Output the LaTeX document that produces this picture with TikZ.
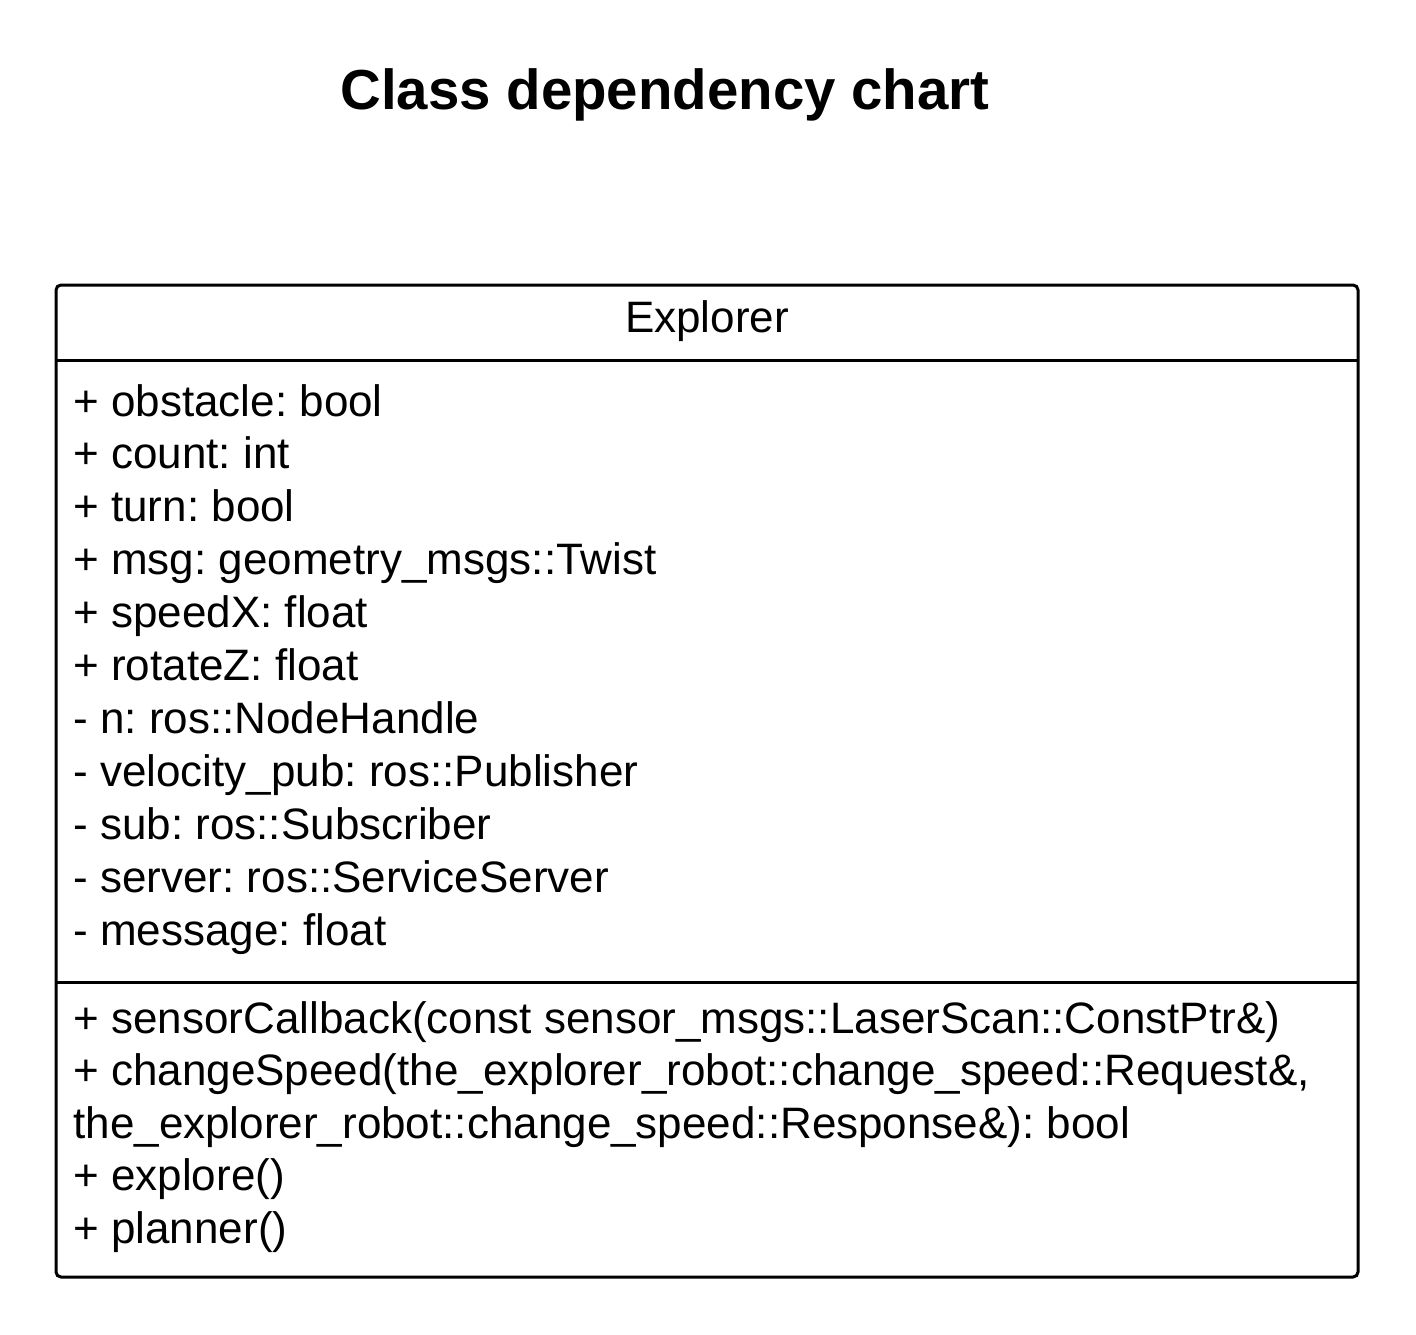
\documentclass[tikz,border=0pt]{standalone}
\usepackage{fontspec}
\setmainfont{Liberation Sans}
\frenchspacing
\usetikzlibrary{positioning}

\begin{document}
\begin{tikzpicture}[
  x=0.5pt, y=-0.5pt,
  heading/.style={font=\fontsize{28.2}{34}\selectfont\bfseries, inner sep=0pt, anchor=base},
  classbox/.style={draw, line width=1.5pt, rounded corners=2.5pt, inner sep=0pt, outer sep=0pt, anchor=north west},
  member/.style={font=\fontsize{22}{26}\selectfont, inner sep=0pt, anchor=base west},
  divider/.style={line width=1.5pt}
]
\useasboundingbox (0,0) rectangle (1416,1334);

\node[heading] (title) at (665,109) {Class dependency chart};

% class box
\node[classbox, minimum width=651pt, minimum height=496pt] (cls) at (56,285) {};
\node[member, anchor=base] (name) at (707,332) {Explorer};
\draw[divider] (cls.west |- 0,360) -- (cls.east |- 0,360);
\draw[divider] (cls.west |- 0,982) -- (cls.east |- 0,982);

% attributes
\foreach \txt [count=\i from 0] in {
  + obstacle: bool,
  + count: int,
  + turn: bool,
  + msg: geometry\_msgs::Twist,
  + speedX: float,
  + rotateZ: float,
  - n: ros::NodeHandle,
  - velocity\_pub: ros::Publisher,
  - sub: ros::Subscriber,
  - server: ros::ServiceServer,
  - message: float}
  \node[member] (attr\i) at (73,{416+52.9*\i}) {\txt};

% methods
\foreach \txt [count=\i from 0] in {
  + sensorCallback(const sensor\_msgs::LaserScan::ConstPtr\&),
  {+ changeSpeed(the\_explorer\_robot::change\_speed::Request\&,},
  the\_explorer\_robot::change\_speed::Response\&): bool,
  + explore(),
  + planner()}
  \node[member] (meth\i) at (73,{1033+52.5*\i}) {\txt};
\end{tikzpicture}
\end{document}
